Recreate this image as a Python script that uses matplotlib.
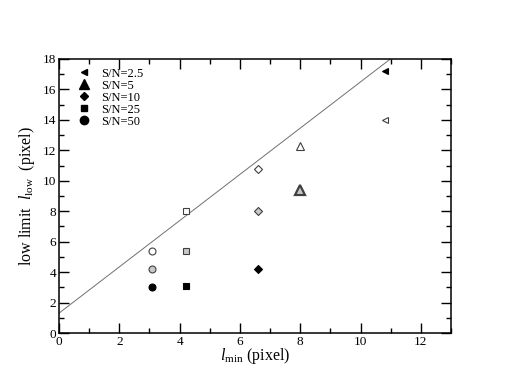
import matplotlib
matplotlib.use('Agg')
import matplotlib.pyplot as plt
from matplotlib.ticker import MultipleLocator
from matplotlib.lines import Line2D

plt.rcParams['font.family'] = 'Liberation Serif'
plt.rcParams['mathtext.fontset'] = 'custom'
plt.rcParams['mathtext.rm'] = 'Liberation Serif'
plt.rcParams['mathtext.it'] = 'Liberation Serif:italic'

# data
labels = ['S/N=2.5', 'S/N=5', 'S/N=10', 'S/N=25', 'S/N=50']
markers = ['<', '^', 'D', 's', 'o']
lmin = [10.8, 8.0, 6.6, 4.2, 3.1]
llow_open = [14.0, 12.3, 10.8, 8.0, 5.4]
llow_gray = [None, 9.4, 8.0, 5.4, 4.2]
llow_black = [17.2, None, 4.2, 3.1, 3.0]
msizes = [5, 5.5, 4, 4.5, 5]

line_x = [0, 13]
line_slope = 1.52
line_icept = 1.3

fig = plt.figure(figsize=(5.08, 3.92), dpi=100)
ax = fig.add_axes([0.116, 0.1505, 0.772, 0.699])

ax.plot(line_x, [line_icept + line_slope * x for x in line_x],
        color='#707070', lw=0.7, zorder=1)

for i in range(len(labels)):
    for yv, face in ((llow_open[i], 'white'), (llow_gray[i], '#c8c8c8'),
                     (llow_black[i], 'black')):
        if yv is None:
            continue
        ms = msizes[i]
        mew = 0.8
        if markers[i] == '^' and face != 'white':
            ms, mew = 6.5, 1.6
        ax.plot([lmin[i]], [yv], marker=markers[i], ms=ms,
                mfc=face, mec='#404040' if face != 'black' else 'black',
                mew=mew, ls='none', zorder=3)

handles = [Line2D([], [], marker=m, color='black', ls='none', ms=s)
           for m, s in zip(markers, [5, 7, 4.5, 5, 6])]
ax.legend(handles, labels, loc='upper left', frameon=False, fontsize=9,
          handletextpad=0.4, labelspacing=0.0, borderaxespad=0.3,
          bbox_to_anchor=(0.01, 1.0))

ax.set_xlim(0, 13)
ax.set_ylim(0, 18)
ax.xaxis.set_major_locator(MultipleLocator(2))
ax.xaxis.set_minor_locator(MultipleLocator(1))
ax.yaxis.set_major_locator(MultipleLocator(2))
ax.yaxis.set_minor_locator(MultipleLocator(1))
ax.tick_params(which='both', direction='in', top=True, right=True,
               labelsize=9.5, pad=2)
ax.tick_params(which='major', length=7, width=1)
ax.tick_params(which='minor', length=3.5, width=1)
for sp in ax.spines.values():
    sp.set_linewidth(1.1)

ax.set_xlabel(r'$l_{\rm min}$ (pixel)', fontsize=11.5, labelpad=-1)
ax.set_ylabel(r'low limit  $l_{\rm low}$  (pixel)', fontsize=11.5, labelpad=4)

fig.savefig('out.png', dpi=100)
